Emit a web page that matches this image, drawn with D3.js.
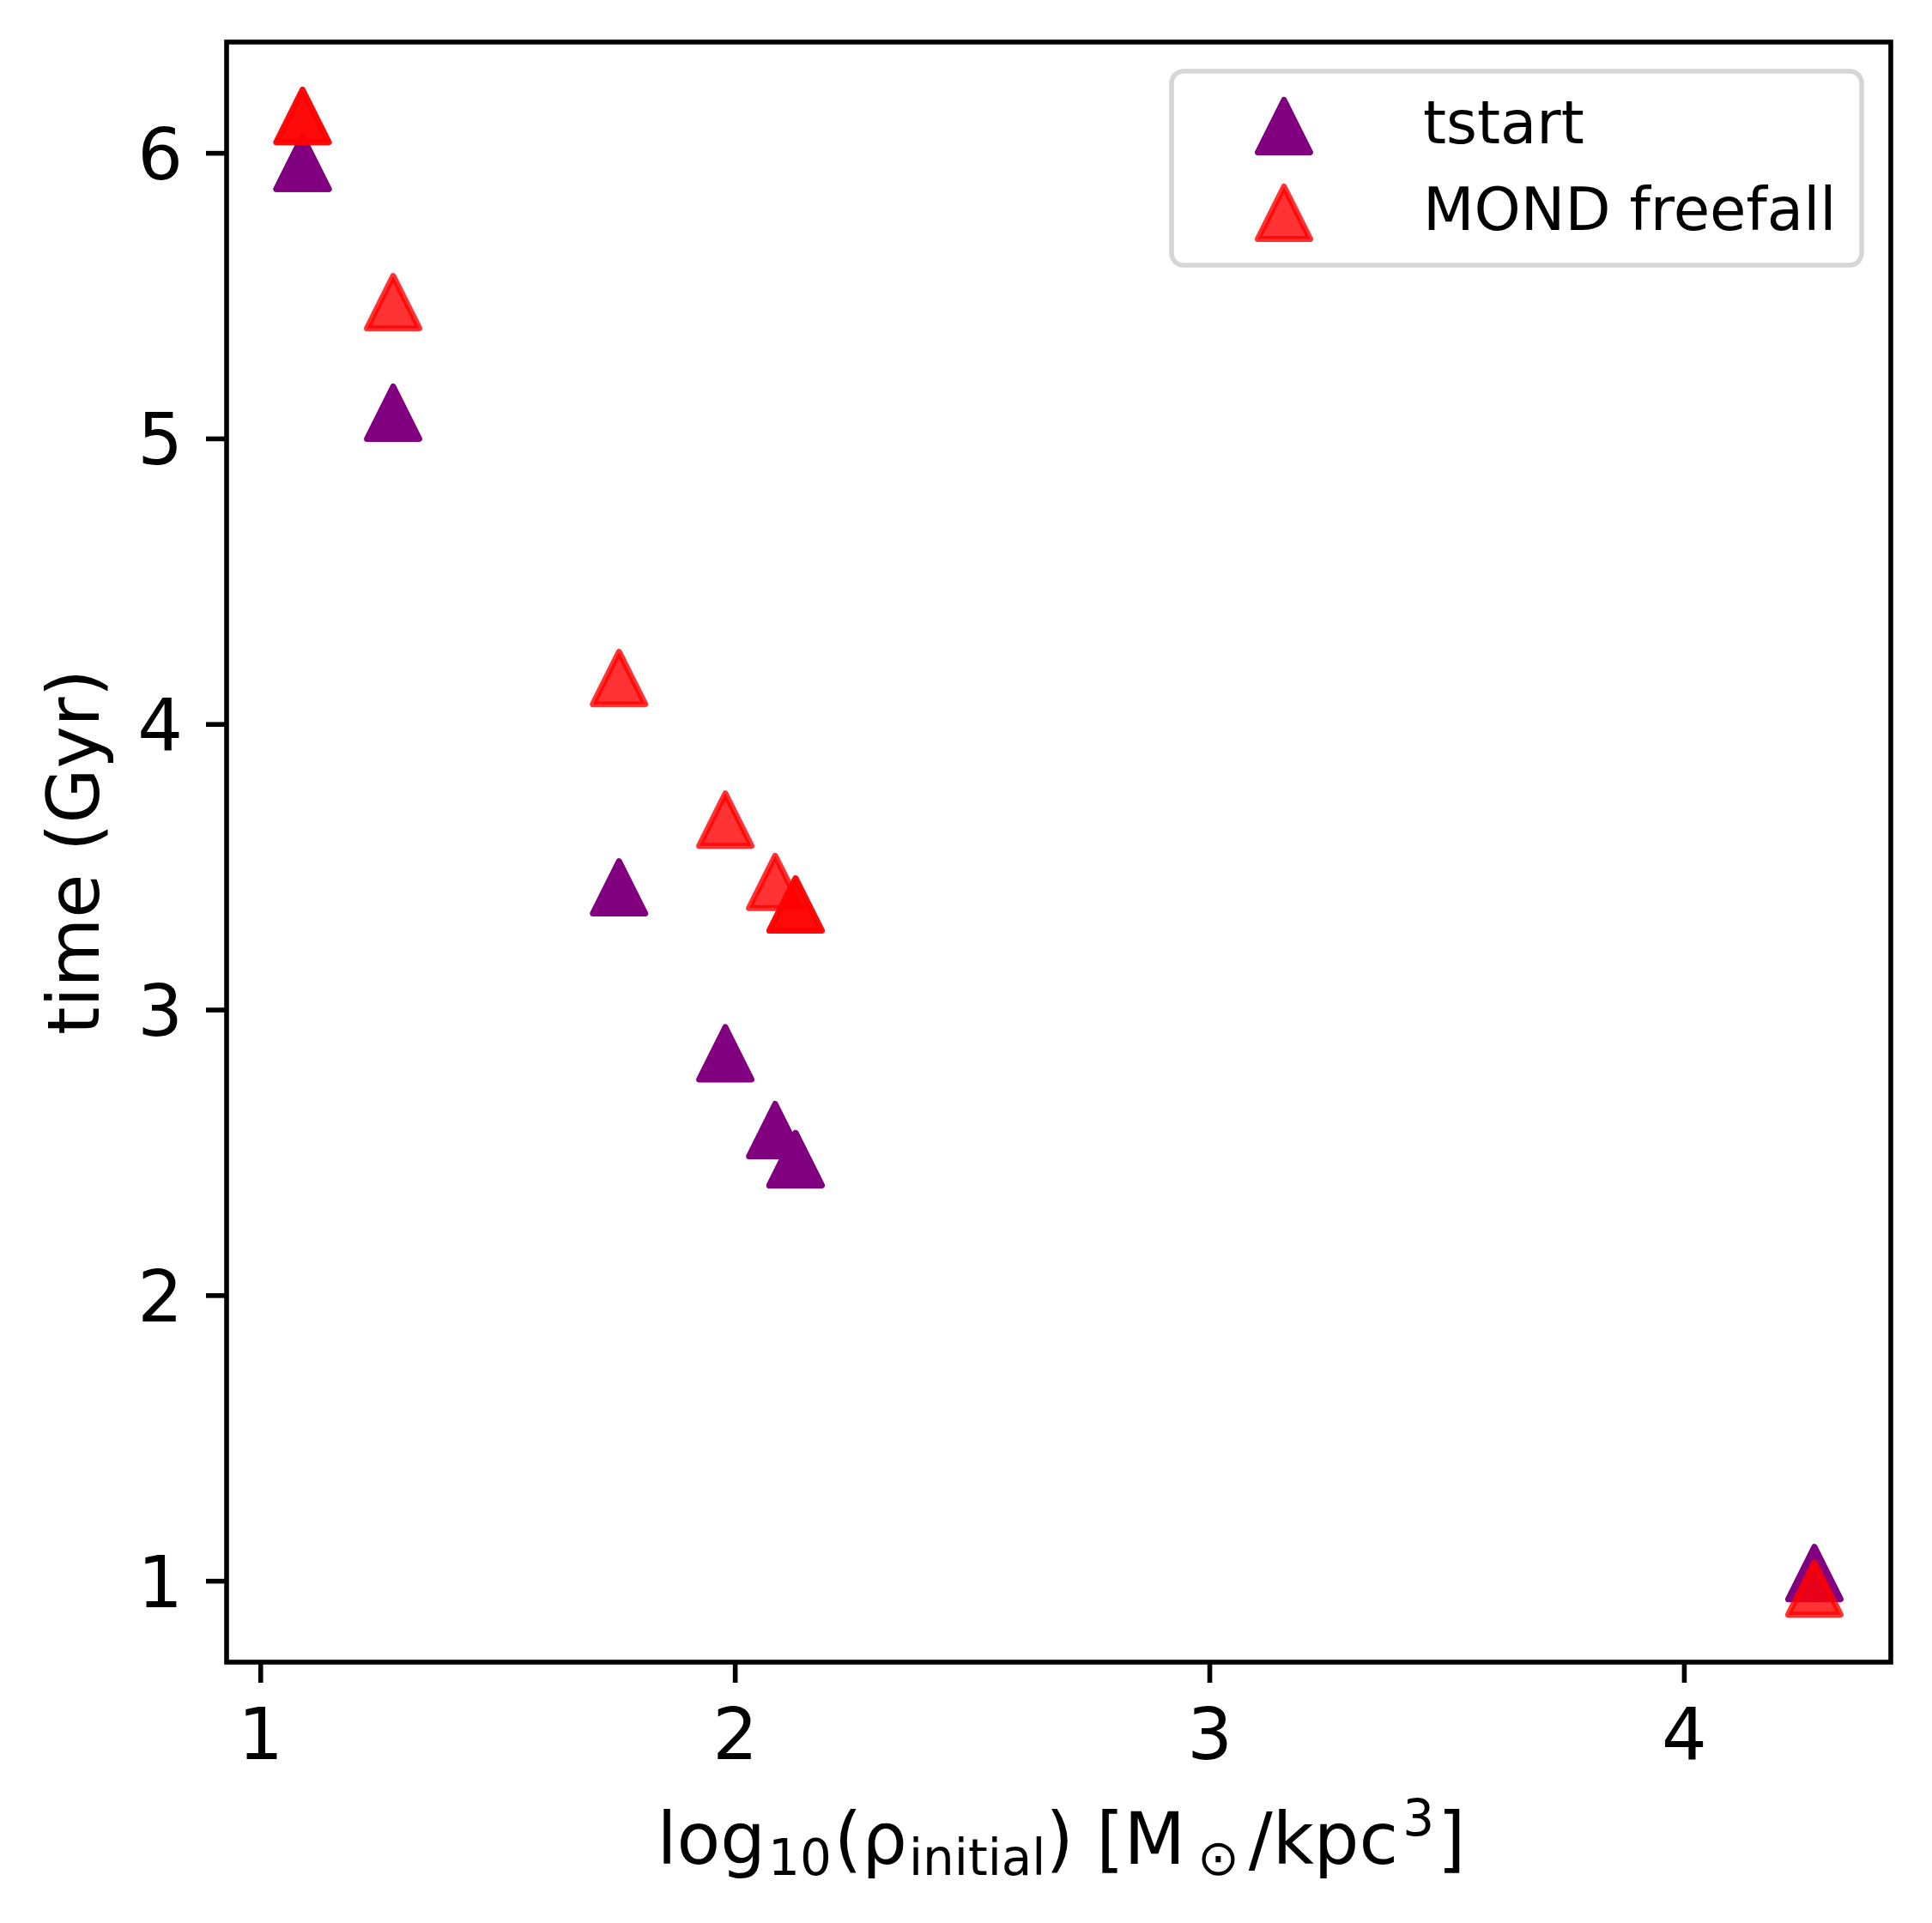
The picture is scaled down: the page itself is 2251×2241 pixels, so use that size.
<!DOCTYPE html>
<html>
<meta charset="utf-8">
  <head>
    <script src="https://d3js.org/d3.v7.min.js"></script>
    <style>
      body { margin: 0; background: #fff; }
      text { font-family: "DejaVu Sans", sans-serif; }
    </style>
  </head>
  <body>
    <div id="my_dataviz"></div>
    <script>

    // data (two points sit twice on top of each other)
    var rhoInitial   = [1.089, 1.089, 1.28, 1.756, 1.98, 2.085, 2.128, 2.128, 4.275];
    var tstart       = [5.965, 5.965, 5.09, 3.428, 2.847, 2.578, 2.476, 2.476, 1.027];
    var mondFreefall = [6.129, 6.129, 5.477, 4.161, 3.665, 3.447, 3.368, 3.368, 0.973];
    var xTicks = [1, 2, 3, 4];
    var yTicks = [1, 2, 3, 4, 5, 6];
    var seriesNames = ["tstart", "MOND freefall"];

    // set the dimensions and margins of the graph
    var W = 2251, H = 2241;
    var margin = {top: 49, right: 48, bottom: 304, left: 264},
        width = W - margin.left - margin.right,
        height = H - margin.top - margin.bottom;

    var svg = d3.select("#my_dataviz")
      .append("svg")
        .attr("width", W)
        .attr("height", H);

    var g = svg.append("g")
        .attr("transform", "translate(" + margin.left + "," + margin.top + ")");

    var x = d3.scaleLinear().domain([0.929, 4.436]).range([0, width]);
    var y = d3.scaleLinear().domain([0.715, 6.388]).range([height, 0]);

    // triangle marker, matplotlib style '^'
    var r = 30.5;
    function tri(cx, cy) {
      return "M" + cx + "," + (cy - r) + "L" + (cx + r) + "," + (cy + r) + "L" + (cx - r) + "," + (cy + r) + "Z";
    }

    // tstart points
    g.selectAll(".ts")
      .data(rhoInitial)
      .enter()
      .append("path")
        .attr("d", function(d, i) { return tri(x(d), y(tstart[i])); })
        .attr("fill", "#800080")
        .attr("stroke", "#800080")
        .attr("stroke-width", 7)
        .attr("stroke-linejoin", "round");

    // MOND freefall points
    g.selectAll(".mf")
      .data(rhoInitial)
      .enter()
      .append("path")
        .attr("d", function(d, i) { return tri(x(d), y(mondFreefall[i])); })
        .attr("fill", "#ff0000")
        .attr("fill-opacity", 0.8)
        .attr("stroke", "#ff0000")
        .attr("stroke-opacity", 0.8)
        .attr("stroke-width", 7)
        .attr("stroke-linejoin", "round");

    // axes
    var xAxis = g.append("g")
        .attr("transform", "translate(0," + height + ")")
        .call(d3.axisBottom(x).tickValues(xTicks).tickFormat(d3.format("d")).tickSize(24).tickPadding(0));
    var yAxis = g.append("g")
        .call(d3.axisLeft(y).tickValues(yTicks).tickFormat(d3.format("d")).tickSize(24).tickPadding(0));

    [xAxis, yAxis].forEach(function(a) {
      a.select(".domain").remove();
      a.selectAll(".tick line").attr("stroke", "#000").attr("stroke-width", 5.6);
      a.selectAll(".tick text")
        .attr("font-family", "DejaVu Sans")
        .attr("font-size", 83)
        .attr("fill", "#000");
    });
    xAxis.selectAll(".tick text").attr("y", 113).attr("dy", null);
    yAxis.selectAll(".tick text").attr("x", -51).attr("dy", "0.36em");

    // frame
    g.append("rect")
        .attr("x", 0).attr("y", 0)
        .attr("width", width).attr("height", height)
        .attr("fill", "none")
        .attr("stroke", "#000")
        .attr("stroke-width", 5.6);

    // axis labels
    var xl = svg.append("text")
        .attr("x", margin.left + width / 2 + 3)
        .attr("y", 2172)
        .attr("text-anchor", "middle")
        .attr("font-size", 83)
        .attr("fill", "#000");
    xl.append("tspan").text("log");
    xl.append("tspan").attr("font-size", 58).attr("dy", 13).attr("dx", 3).text("10");
    xl.append("tspan").attr("dy", -13).attr("dx", 3).text("(ρ");
    xl.append("tspan").attr("font-size", 58).attr("dy", 13).attr("dx", 2).text("initial");
    xl.append("tspan").attr("dy", -13).text(") [M");
    xl.append("tspan").attr("font-size", 58).attr("dy", 13).attr("dx", 14).text("⊙");
    xl.append("tspan").attr("dy", -13).attr("dx", 11).text("/kpc");
    xl.append("tspan").attr("font-size", 58).attr("dy", -33).attr("dx", 5).text("3");
    xl.append("tspan").attr("dy", 33).attr("dx", 4).text("]");

    svg.append("text")
        .attr("transform", "translate(115," + (margin.top + height / 2) + ") rotate(-90)")
        .attr("text-anchor", "middle")
        .attr("font-size", 83)
        .attr("fill", "#000")
        .text("time (Gyr)");

    // legend
    var lg = svg.append("g");
    lg.append("rect")
        .attr("x", 1365).attr("y", 83)
        .attr("width", 804).attr("height", 226)
        .attr("rx", 14)
        .attr("fill", "#fff")
        .attr("fill-opacity", 0.8)
        .attr("stroke", "#d6d6d6")
        .attr("stroke-width", 5.6);
    var legY = [147, 248];
    lg.append("path")
        .attr("d", tri(1496, legY[0]))
        .attr("fill", "#800080")
        .attr("stroke", "#800080")
        .attr("stroke-width", 7)
        .attr("stroke-linejoin", "round");
    lg.append("path")
        .attr("d", tri(1496, legY[1]))
        .attr("fill", "#ff0000").attr("fill-opacity", 0.8)
        .attr("stroke", "#ff0000").attr("stroke-opacity", 0.8)
        .attr("stroke-width", 7)
        .attr("stroke-linejoin", "round");
    lg.selectAll(".lt")
      .data(seriesNames)
      .enter()
      .append("text")
        .attr("x", 1658)
        .attr("y", function(d, i) { return legY[i] + 20; })
        .attr("font-size", 69)
        .attr("fill", "#000")
        .text(function(d) { return d; });

    </script>
  </body>
</html>
